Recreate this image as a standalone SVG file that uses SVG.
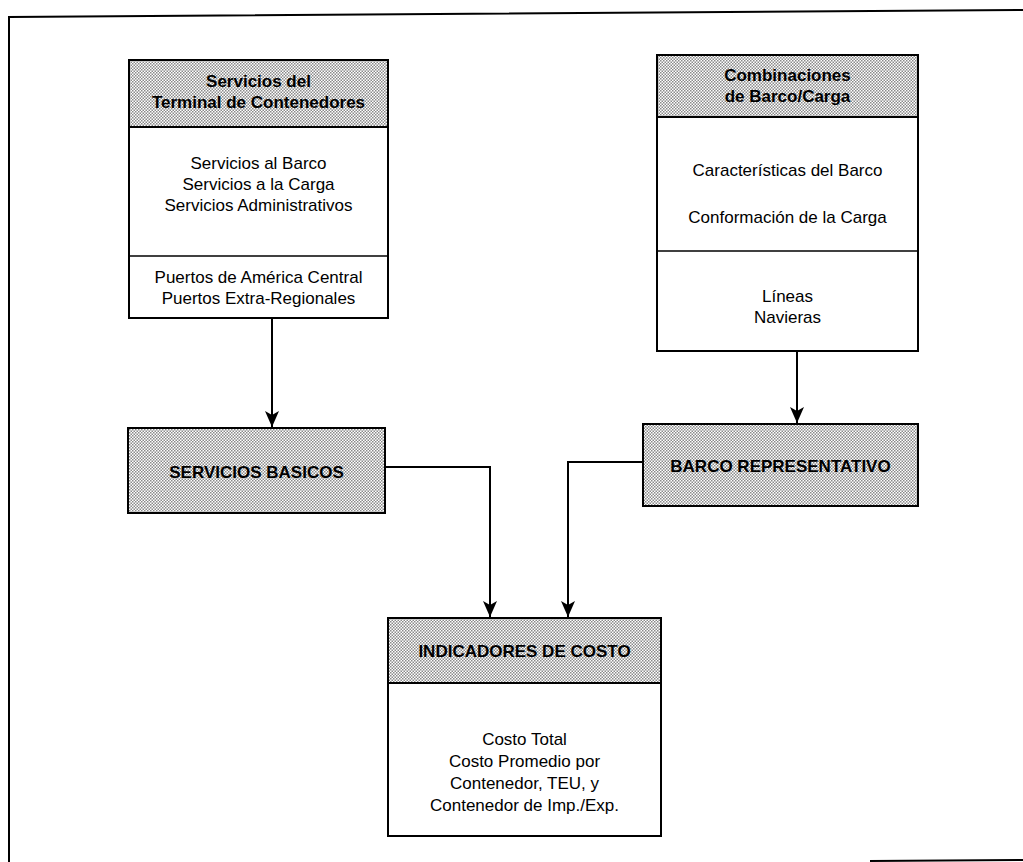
<svg xmlns="http://www.w3.org/2000/svg" width="1023" height="862" viewBox="0 0 1023 862">
<defs>
<pattern id="ht" width="3" height="3" patternUnits="userSpaceOnUse">
<rect width="3" height="3" fill="#ffffff"/>
<rect x="0" y="0" width="1.5" height="1.5" fill="#8a8a8a"/>
<rect x="1.5" y="1.5" width="1.5" height="1.5" fill="#8a8a8a"/>
</pattern>
<marker id="arr" viewBox="0 0 16 14" refX="16" refY="7" markerWidth="16" markerHeight="14" markerUnits="userSpaceOnUse" orient="auto">
<path d="M0,0 L4,7 L0,14 L16,7 Z" fill="#000"/>
</marker>
</defs>
<style>
.box{fill:#fff;stroke:#000;stroke-width:2}
.hdr{fill:url(#ht);stroke:#000;stroke-width:2}
.div{stroke:#000;stroke-width:1.5}
.ht{font-family:"Liberation Sans",Arial,sans-serif;font-weight:bold;font-size:17px;fill:#000;text-anchor:middle}
.bt{font-family:"Liberation Sans",Arial,sans-serif;font-size:17px;fill:#000;text-anchor:middle}
.conn{fill:none;stroke:#000;stroke-width:2}
.frame{fill:none;stroke:#000;stroke-width:2}
</style>
<g id="frame">
<path class="frame" d="M9,862 L9,17 L1023,10"/>
<path class="frame" d="M870,861 L1023,860"/>
</g>
<g id="node-terminal">
<rect class="box" x="129" y="60" width="259" height="258"/>
<rect class="hdr" x="129" y="60" width="259" height="67"/>
<line class="div" x1="129" y1="256" x2="388" y2="256"/>
<text class="ht" x="258.5" y="87">Servicios del</text>
<text class="ht" x="258.5" y="108">Terminal de Contenedores</text>
<text class="bt" x="258.5" y="169">Servicios al Barco</text>
<text class="bt" x="258.5" y="190">Servicios a la Carga</text>
<text class="bt" x="258.5" y="211">Servicios Administrativos</text>
<text class="bt" x="258.5" y="283">Puertos de América Central</text>
<text class="bt" x="258.5" y="304">Puertos Extra-Regionales</text>
</g>
<g id="node-combinaciones">
<rect class="box" x="657" y="55" width="261" height="296"/>
<rect class="hdr" x="657" y="55" width="261" height="62"/>
<line class="div" x1="657" y1="251" x2="918" y2="251"/>
<text class="ht" x="787.5" y="81">Combinaciones</text>
<text class="ht" x="787.5" y="102">de Barco/Carga</text>
<text class="bt" x="787.5" y="176">Características del Barco</text>
<text class="bt" x="787.5" y="223">Conformación de la Carga</text>
<text class="bt" x="787.5" y="302">Líneas</text>
<text class="bt" x="787.5" y="323">Navieras</text>
</g>
<g id="node-servicios-basicos">
<rect class="hdr" x="128" y="428" width="257" height="85"/>
<text class="ht" x="256.5" y="478">SERVICIOS BASICOS</text>
</g>
<g id="node-barco">
<rect class="hdr" x="643" y="424" width="275" height="82"/>
<text class="ht" x="780.5" y="472">BARCO REPRESENTATIVO</text>
</g>
<g id="node-indicadores">
<rect class="box" x="388" y="618" width="273" height="218"/>
<rect class="hdr" x="388" y="618" width="273" height="65"/>
<text class="ht" x="524.5" y="657">INDICADORES DE COSTO</text>
<text class="bt" x="524.5" y="745">Costo Total</text>
<text class="bt" x="524.5" y="767">Costo Promedio por</text>
<text class="bt" x="524.5" y="789">Contenedor, TEU, y</text>
<text class="bt" x="524.5" y="811">Contenedor de Imp./Exp.</text>
</g>
<g id="connectors">
<path class="conn" d="M272,318 L272,427" marker-end="url(#arr)"/>
<path class="conn" d="M797,351 L797,423" marker-end="url(#arr)"/>
<path class="conn" d="M385,467 L490,467 L490,617" marker-end="url(#arr)"/>
<path class="conn" d="M643,462 L568,462 L568,617" marker-end="url(#arr)"/>
</g>
</svg>
